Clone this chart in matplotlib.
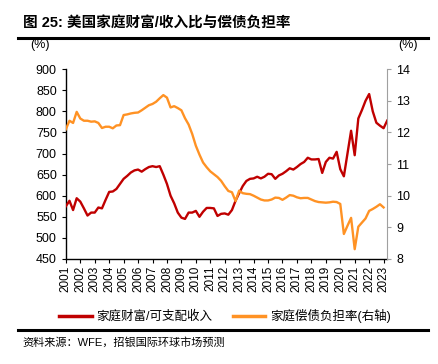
import numpy as np
import matplotlib
matplotlib.use("Agg")
import matplotlib.pyplot as plt
from matplotlib.lines import Line2D

plt.rcParams['font.family'] = ['Liberation Sans', 'Noto Sans CJK SC', 'DejaVu Sans']

# quarterly data, 2001Q1 onwards
wealth_income = [575, 588, 566, 594, 586, 570, 553, 560, 560, 572,
                 570, 590, 609, 610, 616, 628, 640, 647, 655, 660,
                 662, 657, 663, 668, 670, 668, 670, 650, 628, 600,
                 582, 560, 548, 545, 560, 560, 564, 550, 562, 571,
                 571, 570, 552, 557, 558, 555, 566, 588, 606, 623,
                 635, 640, 641, 645, 641, 645, 652, 651, 640, 648,
                 652, 658, 665, 662, 668, 675, 680, 690, 686, 686,
                 687, 654, 680, 690, 688, 704, 663, 646, 700, 754,
                 696, 783, 803, 825, 841, 800, 773, 766, 760, 778]
debt_service = [12.10, 12.37, 12.30, 12.65, 12.44, 12.37, 12.37, 12.34, 12.35, 12.30,
                12.14, 12.18, 12.18, 12.13, 12.22, 12.23, 12.55, 12.57, 12.60, 12.62,
                12.63, 12.70, 12.78, 12.86, 12.90, 12.97, 13.08, 13.18, 13.10, 12.79,
                12.83, 12.77, 12.70, 12.45, 12.25, 11.95, 11.58, 11.30, 11.05, 10.90,
                10.77, 10.68, 10.59, 10.47, 10.30, 10.15, 10.11, 9.83, 10.16, 10.08,
                10.06, 10.05, 10.00, 9.94, 9.88, 9.85, 9.85, 9.88, 9.94, 9.93,
                9.87, 9.94, 10.02, 10.00, 9.95, 9.92, 9.93, 9.93, 9.88, 9.83,
                9.80, 9.79, 9.78, 9.79, 9.81, 9.80, 9.74, 8.79, 9.05, 9.30,
                8.31, 9.02, 9.15, 9.28, 9.52, 9.58, 9.65, 9.73, 9.63]
years = list(range(2001, 2024))

red = '#C00000'
orange = '#FF9224'

t = 2001 + np.arange(len(wealth_income)) / 4.0
t2 = 2001 + np.arange(len(debt_service)) / 4.0

fig = plt.figure(figsize=(4.39, 3.64), dpi=100)
ax1 = fig.add_axes([0.150, 0.2885, 0.732, 0.5215])
ax2 = ax1.twinx()

ax1.plot(t, wealth_income, color=red, linewidth=1.7, zorder=3)
ax2.plot(t2, debt_service, color=orange, linewidth=1.7)

ax1.set_xlim(2001, 2023.25)
ax1.set_ylim(450, 900)
ax1.set_yticks(range(450, 901, 50))
ax2.set_ylim(8, 14)
ax2.set_yticks(range(8, 15))

ax1.set_xticks(years)
ax1.set_xticklabels([str(y) for y in years], rotation=90, fontsize=8.5)
ax1.tick_params(axis='y', labelsize=9, length=3, direction='out', width=0.8)
ax1.tick_params(axis='x', length=3, direction='out', width=0.8, pad=2)
ax2.tick_params(axis='y', labelsize=9, length=3, direction='out', color='#A0A0A0', width=0.8)

for ax in (ax1, ax2):
    ax.spines['top'].set_visible(False)
ax1.spines['right'].set_visible(False)
ax2.spines['left'].set_visible(False)
ax2.spines['bottom'].set_visible(False)
ax2.spines['right'].set_color('#A0A0A0')
ax1.spines['left'].set_linewidth(1.0)
ax1.spines['bottom'].set_linewidth(1.0)

# unit labels
fig.text(40 / 439, 1 - 45 / 364, '(%)', fontsize=9, ha='center', va='center')
fig.text(408 / 439, 1 - 45 / 364, '(%)', fontsize=9, ha='center', va='center')

# title and rules
fig.text(23 / 439, 1 - 23 / 364, '图 25: 美国家庭财富/收入比与偿债负担率',
         fontsize=10.5, fontweight='bold', ha='left', va='center')
fig.add_artist(Line2D([18 / 439, 428 / 439], [1 - 38 / 364, 1 - 38 / 364],
                      color='black', linewidth=2.2))
fig.add_artist(Line2D([18 / 439, 428 / 439], [1 - 330 / 364, 1 - 330 / 364],
                      color='black', linewidth=2.2))

# legend
handles = [Line2D([], [], color=red, linewidth=2.5),
           Line2D([], [], color=orange, linewidth=2.5)]
fig.legend(handles, ['家庭财富/可支配收入', '家庭偿债负担率(右轴)'],
           loc='center', bbox_to_anchor=(225 / 439, 1 - 316 / 364), ncol=2,
           frameon=False, fontsize=9, handlelength=2.6, handletextpad=0.4,
           columnspacing=1.6)

fig.text(22 / 439, 1 - 342 / 364, '资料来源：WFE，招银国际环球市场预测',
         fontsize=8, ha='left', va='center')

fig.savefig('out.png', dpi=100)
